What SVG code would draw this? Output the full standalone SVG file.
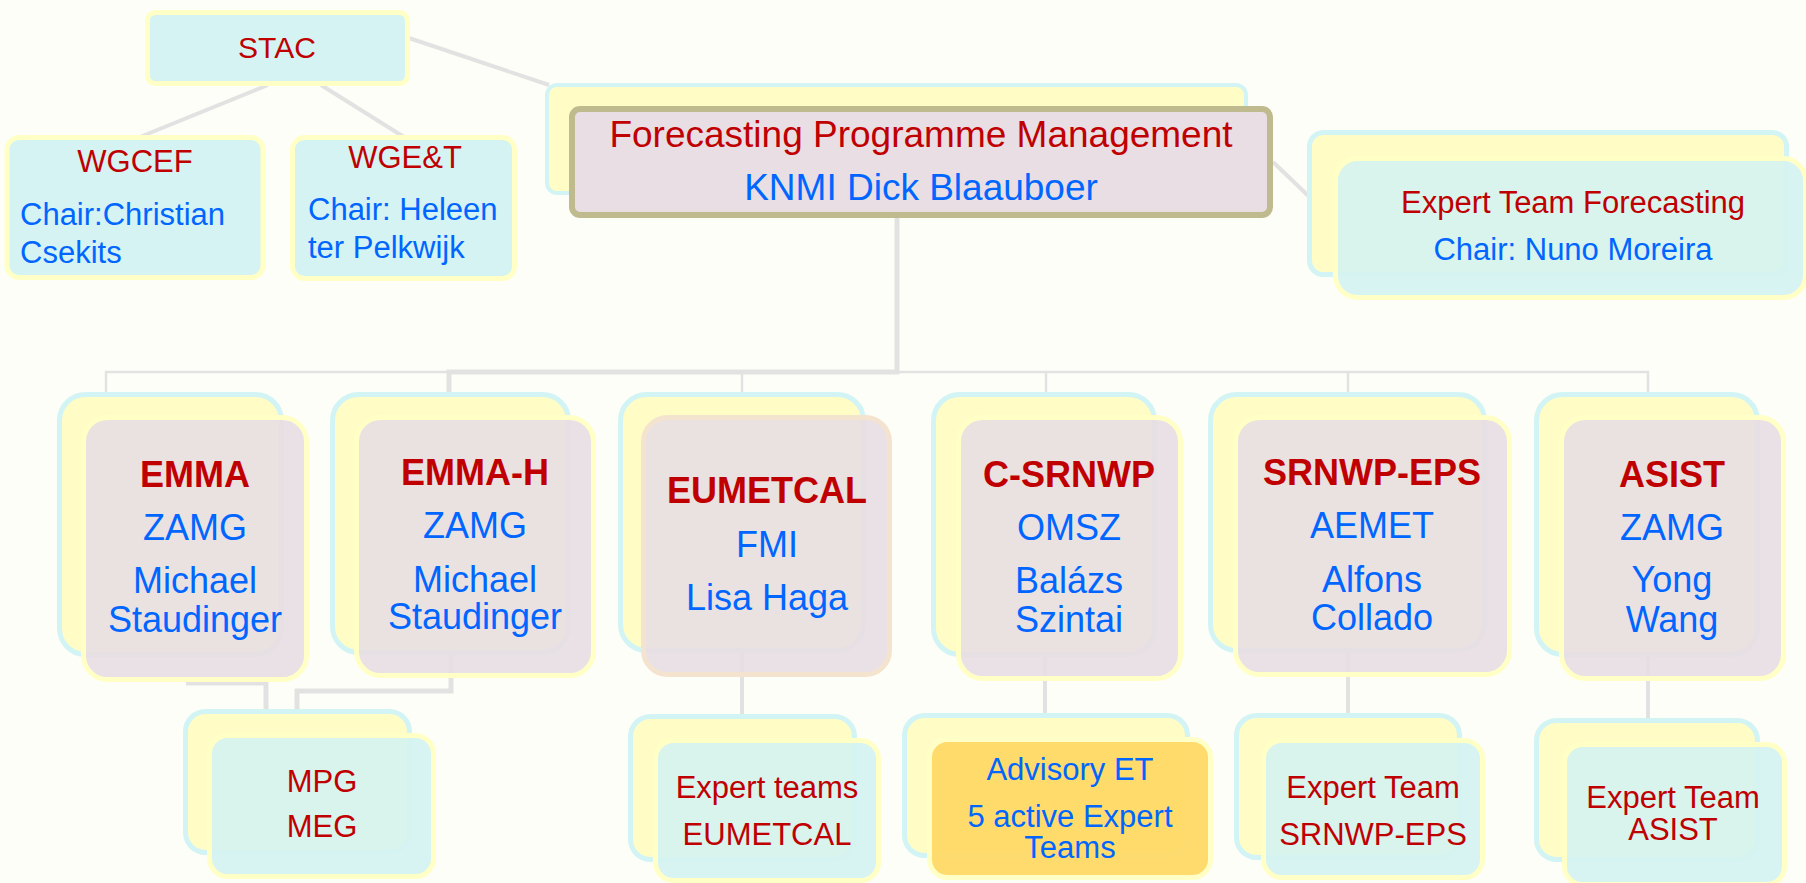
<svg xmlns="http://www.w3.org/2000/svg" width="1806" height="883" viewBox="0 0 1806 883">
<style>
text{font-family:"Liberation Sans",Arial,sans-serif;}
.r{fill:#c00000;}
.b{fill:#0066ff;}
.m{text-anchor:middle;}
.t31{font-size:31px;}
.t36{font-size:36px;}
.h{font-size:36px;font-weight:bold;}
.single{fill:#d4f3f2;stroke:#ffffc6;stroke-width:5;}
.back{fill:#fffcc6;stroke:#d3f4f5;stroke-width:5;}
.fp{fill:#e8dee3;fill-opacity:.9;stroke:#ffffc6;stroke-width:5;}
.fc{fill:#d4f3f1;fill-opacity:.9;stroke:#ffffc6;stroke-width:5;}
.conn{fill:none;stroke:#e2e2e2;stroke-linejoin:miter;}
.thick{stroke-width:5;}
.mid{stroke-width:4;}
.thin{stroke-width:2.5;}
</style>
<rect x="0" y="0" width="1806" height="883" fill="#fefef8"/>

<g id="connectors">
  <line class="conn mid" x1="406" y1="37" x2="549" y2="85"/>
  <line class="conn mid" x1="268" y1="85" x2="135" y2="139"/>
  <line class="conn mid" x1="321" y1="85" x2="404" y2="137"/>
  <line class="conn mid" x1="1273" y1="162" x2="1320" y2="207"/>
  <path class="conn thick" d="M897 218 V372 H449 V394"/>
  <path class="conn thin" d="M106 394 V372 H1648 V394 M742 372 V394 M1046 372 V394 M1348 372 V394"/>
  <path class="conn thick" d="M186 683 H266 V712"/>
  <path class="conn thick" d="M451 655 V691 H297 V712"/>
  <path class="conn mid" d="M742 653 V716"/>
  <path class="conn mid" d="M1045 657 V715"/>
  <path class="conn mid" d="M1348 653 V715"/>
  <path class="conn mid" d="M1648 657 V720"/>
</g>

<g id="stac">
  <rect class="single" x="147.5" y="12.5" width="260" height="71" rx="8"/>
  <text class="r m" x="277" y="58" font-size="30">STAC</text>
</g>

<g id="wgcef">
  <rect class="single" x="7" y="137.5" width="256" height="140" rx="12"/>
  <text class="r m t31" x="135" y="172">WGCEF</text>
  <text class="b t31" x="20" y="225">Chair:Christian</text>
  <text class="b t31" x="20" y="263">Csekits</text>
</g>

<g id="wget">
  <rect class="single" x="292.5" y="137.5" width="222" height="141" rx="12"/>
  <text class="r m t31" x="405" y="168">WGE&amp;T</text>
  <text class="b t31" x="308" y="220">Chair: Heleen</text>
  <text class="b t31" x="308" y="258">ter Pelkwijk</text>
</g>

<g id="fpm">
  <rect x="547" y="85" width="699" height="108" rx="10" fill="#fffcc6" stroke="#d3f4f5" stroke-width="4"/>
  <rect x="572" y="109" width="698" height="106" rx="8" fill="#e8dee3" stroke="#bfbb8e" stroke-width="6"/>
  <text class="r m" x="921" y="147" font-size="37">Forecasting Programme Management</text>
  <text class="b m" x="921" y="200" font-size="37">KNMI Dick Blaauboer</text>
</g>

<g id="etf">
  <rect class="back" x="1309.5" y="132.5" width="477" height="142" rx="14"/>
  <rect class="fc" x="1335.5" y="158.5" width="470" height="139" rx="22"/>
  <text class="r m t31" x="1573" y="213">Expert Team Forecasting</text>
  <text class="b m t31" x="1573" y="260">Chair: Nuno Moreira</text>
</g>

<g id="emma">
  <rect class="back" x="59.5" y="394.5" width="222" height="260" rx="26"/>
  <rect class="fp" x="83.5" y="417.5" width="223" height="262" rx="24"/>
  <text class="r m h" x="195" y="487">EMMA</text>
  <text class="b m t36" x="195" y="540">ZAMG</text>
  <text class="b m t36" x="195" y="593">Michael</text>
  <text class="b m t36" x="195" y="632">Staudinger</text>
</g>

<g id="emmah">
  <rect class="back" x="332.5" y="394.5" width="236" height="258" rx="26"/>
  <rect class="fp" x="356.5" y="417.5" width="237" height="258" rx="24"/>
  <text class="r m h" x="475" y="485">EMMA-H</text>
  <text class="b m t36" x="475" y="538">ZAMG</text>
  <text class="b m t36" x="475" y="592">Michael</text>
  <text class="b m t36" x="475" y="629">Staudinger</text>
</g>

<g id="eumetcal">
  <rect class="back" x="620.5" y="394.5" width="243" height="256" rx="26"/>
  <rect class="fp" x="643.5" y="417.5" width="246" height="257" rx="24" style="stroke:#f4e4cf"/>
  <text class="r m h" x="767" y="503">EUMETCAL</text>
  <text class="b m t36" x="767" y="557">FMI</text>
  <text class="b m t36" x="767" y="610">Lisa Haga</text>
</g>

<g id="csrnwp">
  <rect class="back" x="933.5" y="394.5" width="221" height="260" rx="26"/>
  <rect class="fp" x="958.5" y="417.5" width="222" height="261" rx="24"/>
  <text class="r m h" x="1069" y="487">C-SRNWP</text>
  <text class="b m t36" x="1069" y="540">OMSZ</text>
  <text class="b m t36" x="1069" y="593">Balázs</text>
  <text class="b m t36" x="1069" y="632">Szintai</text>
</g>

<g id="srnwpeps">
  <rect class="back" x="1210.5" y="394.5" width="274" height="256" rx="26"/>
  <rect class="fp" x="1235.5" y="417.5" width="274" height="257" rx="24"/>
  <text class="r m h" x="1372" y="485">SRNWP-EPS</text>
  <text class="b m t36" x="1372" y="538">AEMET</text>
  <text class="b m t36" x="1372" y="592">Alfons</text>
  <text class="b m t36" x="1372" y="630">Collado</text>
</g>

<g id="asist">
  <rect class="back" x="1536.5" y="394.5" width="221" height="260" rx="26"/>
  <rect class="fp" x="1561.5" y="417.5" width="222" height="261" rx="24"/>
  <text class="r m h" x="1672" y="487">ASIST</text>
  <text class="b m t36" x="1672" y="540">ZAMG</text>
  <text class="b m t36" x="1672" y="592">Yong</text>
  <text class="b m t36" x="1672" y="632">Wang</text>
</g>

<g id="mpg">
  <rect class="back" x="185.5" y="711.5" width="224" height="141" rx="20"/>
  <rect class="fc" x="209.5" y="735.5" width="224" height="141" rx="18"/>
  <text class="r m t31" x="322" y="792">MPG</text>
  <text class="r m t31" x="322" y="837">MEG</text>
</g>

<g id="et-eumetcal">
  <rect class="back" x="630.5" y="716.5" width="224" height="143" rx="20"/>
  <rect class="fc" x="655.5" y="740.5" width="223" height="140" rx="18"/>
  <text class="r m t31" x="767" y="798">Expert teams</text>
  <text class="r m t31" x="767" y="845">EUMETCAL</text>
</g>

<g id="advisory">
  <rect class="back" x="904.5" y="715.5" width="283" height="140" rx="20"/>
  <rect x="929.5" y="739.5" width="281" height="138" rx="18" fill="#ffd966" fill-opacity=".95" stroke="#ffffc6" stroke-width="5"/>
  <text class="b m t31" x="1070" y="780">Advisory ET</text>
  <text class="b m t31" x="1070" y="827">5 active Expert</text>
  <text class="b m t31" x="1070" y="858">Teams</text>
</g>

<g id="et-srnwpeps">
  <rect class="back" x="1236.5" y="715.5" width="223" height="142" rx="20"/>
  <rect class="fc" x="1263.5" y="740.5" width="219" height="137" rx="18"/>
  <text class="r m t31" x="1373" y="798">Expert Team</text>
  <text class="r m t31" x="1373" y="845">SRNWP-EPS</text>
</g>

<g id="et-asist">
  <rect class="back" x="1536.5" y="720.5" width="221" height="139" rx="20"/>
  <rect class="fc" x="1564.5" y="744.5" width="220" height="140" rx="18"/>
  <text class="r m t31" x="1673" y="808">Expert Team</text>
  <text class="r m t31" x="1673" y="840">ASIST</text>
</g>
</svg>
